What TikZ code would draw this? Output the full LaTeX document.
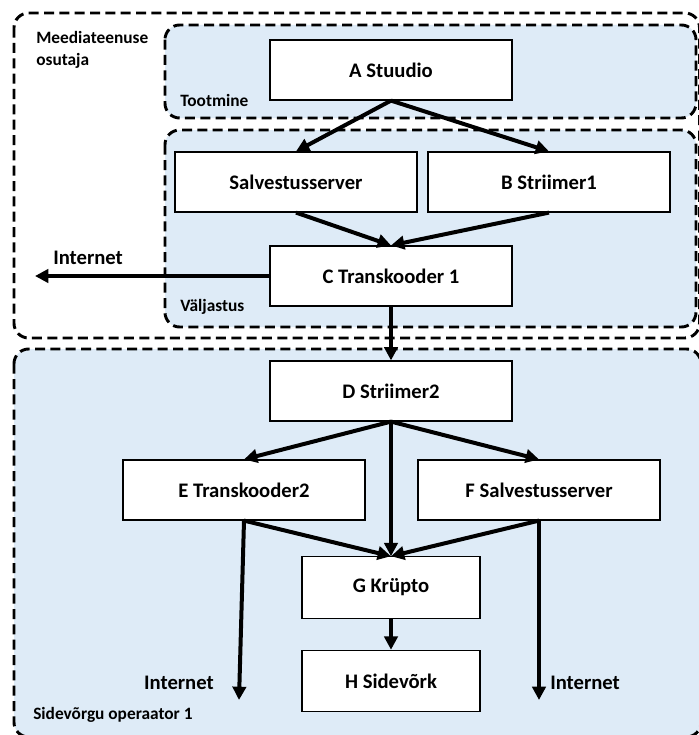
\documentclass[tikz,border=0pt]{standalone}
\usepackage{fontspec}
\setmainfont{Carlito}
\usetikzlibrary{arrows.meta}
\definecolor{zonefill}{HTML}{DEEBF7}
\begin{document}
\begin{tikzpicture}[x=.75pt,y=-.75pt,
  zone/.style={line width=2.2pt,dash pattern=on 7.5pt off 4pt,rounded corners=11pt},
  blk/.style={draw,fill=white,line width=.9pt,minimum width=181.5pt,minimum height=45pt,inner sep=0pt,font=\fontsize{15.5}{18}\selectfont\bfseries},
  lbl/.style={font=\fontsize{13}{16.5}\selectfont\bfseries,inner sep=0pt},
  big/.style={font=\fontsize{15.5}{18}\selectfont\bfseries,inner sep=0pt},
  arr/.style={line width=3pt,-{Triangle[length=10pt,width=10pt]}}]
  \useasboundingbox (0,0) rectangle (699,735);
  \draw[zone] (14,13) rectangle (699.5,338);
  \draw[zone,fill=zonefill] (165,25) rectangle (696,118);
  \draw[zone,fill=zonefill] (165,130) rectangle (696,327);
  \draw[zone,fill=zonefill] (14,349) rectangle (701,737);
  \node[lbl,anchor=north west,align=left] (mo) at (36,31) {Meediateenuse\\osutaja};
  \node[lbl,anchor=west] (tm) at (180,100) {Tootmine};
  \node[lbl,anchor=west] (vj) at (180,307) {Väljastus};
  \node[lbl,anchor=west] (so) at (33,715) {Sidevõrgu operaator 1};
  \node[blk] (A) at (391,70) {A Stuudio};
  \node[blk] (S) at (296,182) {Salvestusserver};
  \node[blk] (B) at (549,182) {B Striimer1};
  \node[blk] (C) at (391,276) {C Transkooder 1};
  \node[blk] (D) at (391,391) {D Striimer2};
  \node[blk] (E) at (244,490) {E Transkooder2};
  \node[blk] (F) at (539,490) {F Salvestusserver};
  \node[blk,minimum width=133.5pt,minimum height=46pt] (G) at (391,587.5) {G Krüpto};
  \node[blk,minimum width=133.5pt,minimum height=46pt] (H) at (391,681) {H Sidevõrk};
  \coordinate (net1) at (35,276);
  \coordinate (net2) at (239,700);
  \coordinate (net3) at (539,700);
  \node[big,anchor=west] (i1) at (53,258) {Internet};
  \node[big,anchor=east] (i2) at (214,683) {Internet};
  \node[big,anchor=west] (i3) at (550,683) {Internet};
  \draw[arr] (A.south) -- (S.north);
  \draw[arr] (A.south) -- (B.north);
  \draw[arr] (S.south) -- (C.north);
  \draw[arr] (B.south) -- (C.north);
  \draw[arr] (C.west) -- (net1);
  \draw[arr] (C.south) -- (D.north);
  \draw[arr] (D.south) -- (E.north);
  \draw[arr] (D.south) -- (F.north);
  \draw[arr] (D.south) -- (G.north);
  \draw[arr] (E.south) -- (G.north);
  \draw[arr] (F.south) -- (G.north);
  \draw[arr] (G.south) -- (H.north);
  \draw[arr] (E.south) -- (net2);
  \draw[arr] (F.south) -- (net3);
\end{tikzpicture}
\end{document}
